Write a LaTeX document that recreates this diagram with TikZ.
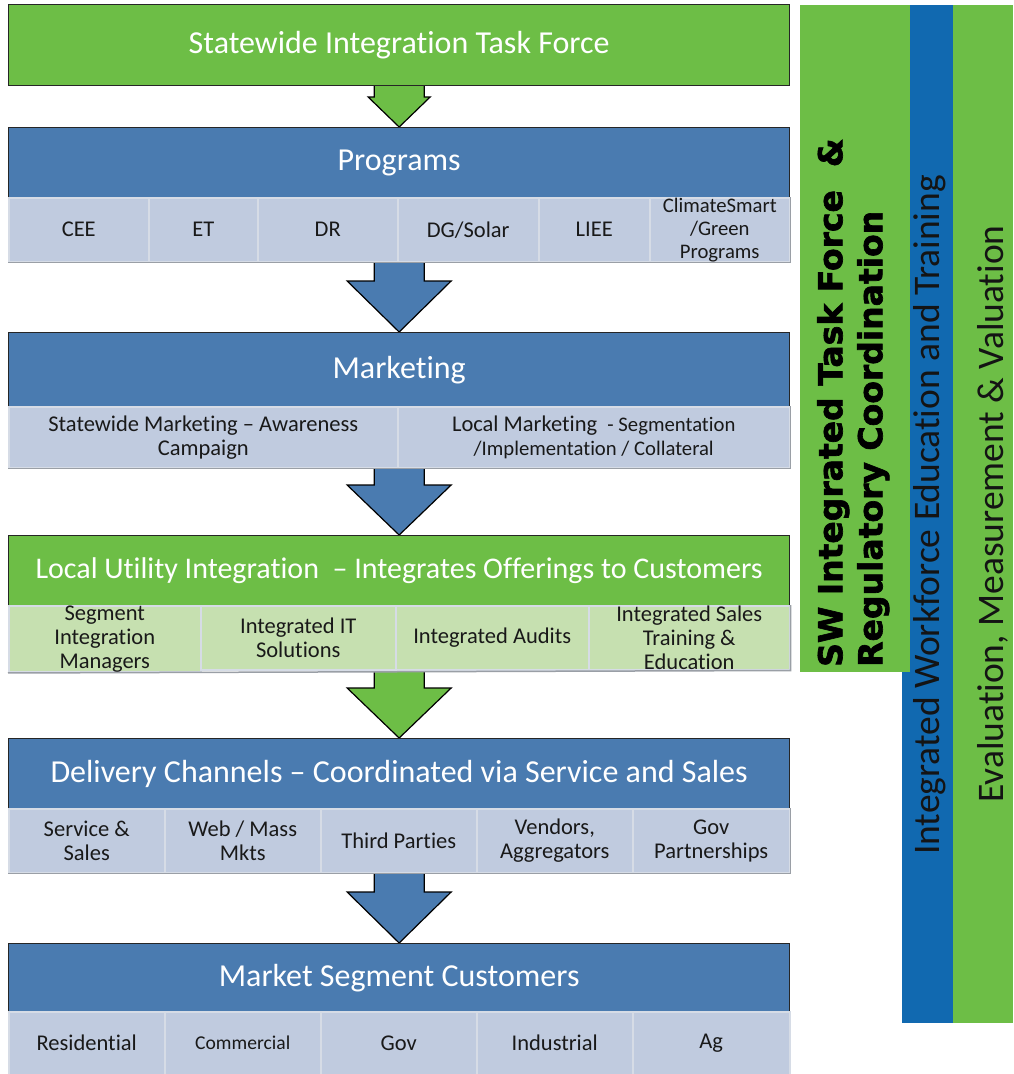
\documentclass[tikz,border=0pt]{standalone}
\usepackage{fontspec}
\setmainfont{Carlito}[Ligatures={NoCommon}]
\newfontfamily\heavyfont{DejaVu Sans}[BoldFeatures={FakeBold=2}]
\usetikzlibrary{calc,fit,backgrounds}
\definecolor{hgreen}{HTML}{6DBE46}
\definecolor{hblue}{HTML}{4A7BB0}
\definecolor{subblue}{HTML}{C0CBDF}
\definecolor{subgreen}{HTML}{C6E0B0}
\definecolor{cellline}{HTML}{D6DCE6}
\definecolor{shadowgray}{HTML}{9A9FA6}
\definecolor{colblue}{HTML}{1169B0}
\tikzset{
  hdr/.style={draw=black!85, line width=1.3pt, anchor=north west, inner sep=0pt,
    minimum width=781pt, text=white, font=\fontsize{32}{36}\selectfont},
  cellbox/.style={draw=cellline, line width=1.5pt, anchor=north west, inner sep=0pt,
    align=center, text=black!90, font=\fontsize{22.5}{24}\selectfont},
  bluecell/.style={cellbox, fill=subblue},
  greencell/.style={cellbox, fill=subgreen},
  rowfit/.style={inner sep=0pt},
  arrowline/.style={draw=black, line width=1.2pt, line join=miter},
  shadowline/.style={draw=shadowgray, line width=1.5pt},
  sidetext/.style={rotate=90, inner sep=0pt, text=black!92, font=\fontsize{37.5}{40}\selectfont}
}
\newcommand\blockarrow[5]{%
  \draw[arrowline, fill=#3] ($(#1.south)+(-25,6)$) -- ($(#2.north)+(-25,#5)$)
    -- ($(#2.north)+(-#4,#5)$) -- (#2.north) -- ($(#2.north)+(#4,#5)$)
    -- ($(#2.north)+(25,#5)$) -- ($(#1.south)+(25,6)$) -- cycle;}
\begin{document}
\begin{tikzpicture}[x=1pt,y=1pt]
\useasboundingbox (0,0) rectangle (1013,-1074);
\begin{scope}[on background layer]
\fill[white] (0,0) rectangle (1013,-1074);
\end{scope}

% right side columns
\fill[hgreen] (953,-5) rectangle (1013,-1023);
\fill[colblue] (902,-5) rectangle (953,-1023);
\fill[hgreen] (800,-5) rectangle (910,-672);
\node[rotate=90, anchor=north west, align=left, inner sep=0pt,
  font=\heavyfont\bfseries\fontsize{33}{40}\selectfont] (swtext) at (817,-667)
  {SW Integrated Task Force\ \ \&\\Regulatory Coordination};
\node[sidetext] (wftext) at (930,-515) {Integrated Workforce Education and Training};
\node[sidetext] (evtext) at (993,-514) {Evaluation, Measurement \& Valuation};

% block 1
\node[hdr, fill=hgreen, minimum height=81pt] (sitf) at (8,-4) {Statewide Integration Task Force};

% block 2 : Programs
\node[hdr, fill=hblue, minimum height=70pt] (prog) at (8,-127) {Programs};
\node[bluecell, minimum width=140pt, minimum height=64pt] (cee) at (8,-197) {CEE};
\node[bluecell, minimum width=109pt, minimum height=64pt] (et) at (148,-197) {ET};
\node[bluecell, minimum width=140pt, minimum height=64pt] (dr) at (257,-197) {DR};
\node[bluecell, minimum width=141pt, minimum height=64pt] (dg) at (397,-197) {DG/Solar};
\node[bluecell, minimum width=111pt, minimum height=64pt] (liee) at (538,-197) {LIEE};
\node[bluecell, minimum width=140pt, minimum height=64pt, font=\fontsize{20.7}{23}\selectfont] (cs) at (649,-197) {ClimateSmart\\/Green\\Programs};
\node[rowfit, fit=(prog)(cee)(cs)] (blk2) {};
\draw[shadowline] (cee.south west) -- (cs.south east) -- (cs.north east);

% block 3 : Marketing
\node[hdr, fill=hblue, minimum height=74pt] (mkt) at (8,-332) {Marketing};
\node[bluecell, minimum width=389pt, minimum height=61pt] (swm) at (8,-406) {Statewide Marketing -- Awareness\\Campaign};
\node[bluecell, minimum width=392pt, minimum height=61pt] (lm) at (397,-406) {Local Marketing\ \ {\fontsize{20.7}{24}\selectfont - Segmentation}\\{\fontsize{20.7}{24}\selectfont/Implementation / Collateral}};
\node[rowfit, fit=(mkt)(swm)(lm)] (blk3) {};
\draw[shadowline] (swm.south west) -- (lm.south east) -- (lm.north east);

% block 4 : Local Utility Integration
\node[hdr, fill=hgreen, minimum height=70pt, font=\fontsize{30}{34}\selectfont] (lui) at (8,-535) {Local Utility Integration\ \ -- Integrates Offerings to Customers};
\node[greencell, minimum width=192pt, minimum height=64pt] (sim) at (8,-605) {Segment\\Integration\\Managers};
\node[greencell, minimum width=195pt, minimum height=64pt] (iit) at (200,-605) {Integrated IT\\Solutions};
\node[greencell, minimum width=193pt, minimum height=64pt] (ia) at (395,-605) {Integrated Audits};
\node[greencell, minimum width=201pt, minimum height=64pt] (ist) at (588,-605) {Integrated Sales\\Training \&\\Education};
\node[rowfit, fit=(lui)(sim)(ist)] (blk4) {};
\draw[shadowline] (sim.south west) -- (ist.south east) -- (ist.north east);

% block 5 : Delivery Channels
\node[hdr, fill=hblue, minimum height=70pt] (dc) at (8,-738) {Delivery Channels -- Coordinated via Service and Sales};
\node[bluecell, minimum width=156pt, minimum height=64pt] (ss) at (8,-808) {Service \&\\Sales};
\node[bluecell, minimum width=156pt, minimum height=64pt] (web) at (164,-808) {Web / Mass\\Mkts};
\node[bluecell, minimum width=156pt, minimum height=64pt] (tp) at (320,-808) {Third Parties};
\node[bluecell, minimum width=156pt, minimum height=64pt] (va) at (476,-808) {Vendors,\\Aggregators};
\node[bluecell, minimum width=157pt, minimum height=64pt] (gp) at (632,-808) {Gov\\Partnerships};
\node[rowfit, fit=(dc)(ss)(gp)] (blk5) {};
\draw[shadowline] (ss.south west) -- (gp.south east) -- (gp.north east);

% block 6 : Market Segment Customers
\node[hdr, fill=hblue, minimum height=68pt] (msc) at (8,-943) {Market Segment Customers};
\node[bluecell, minimum width=156pt, minimum height=63pt] (res) at (8,-1011) {\raisebox{-3pt}{Residential}};
\node[bluecell, minimum width=156pt, minimum height=63pt, font=\fontsize{19.6}{22}\selectfont] (com) at (164,-1011) {Commercial};
\node[bluecell, minimum width=156pt, minimum height=63pt] (gov) at (320,-1011) {Gov};
\node[bluecell, minimum width=156pt, minimum height=63pt] (ind) at (476,-1011) {Industrial};
\node[bluecell, minimum width=157pt, minimum height=63pt] (ag) at (632,-1011) {Ag};

% block arrows behind the boxes
\begin{scope}[on background layer]
\blockarrow{sitf}{prog}{hgreen}{31}{30}
\blockarrow{blk2}{mkt}{hblue}{52}{51}
\blockarrow{blk3}{lui}{hblue}{52}{50}
\blockarrow{blk4}{dc}{hgreen}{52}{50}
\blockarrow{blk5}{msc}{hblue}{52}{51}
\end{scope}
\end{tikzpicture}
\end{document}
